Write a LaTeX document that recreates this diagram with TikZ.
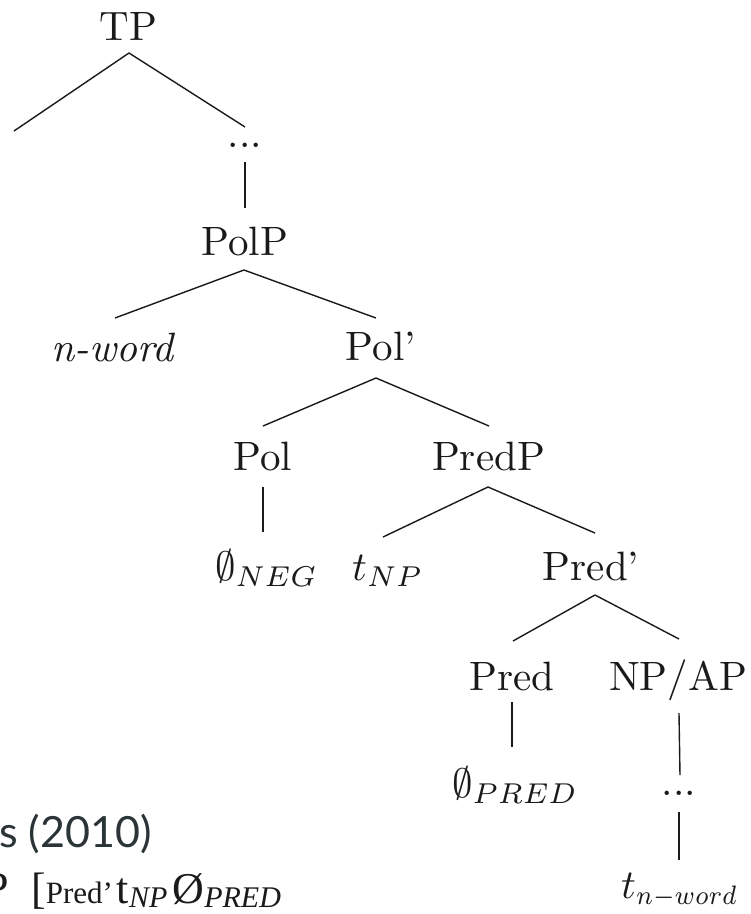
\RequirePackage{fix-cm}
\documentclass[tikz,border=0pt]{standalone}
\usepackage{graphicx}
\usepackage{fontspec}
\newfontfamily\labsans{Lato}
\newfontfamily\labserif{Liberation Serif}
\definecolor{sanscol}{HTML}{2B3436}
\definecolor{inkcol}{HTML}{1A1A1A}
\newcommand\treelab[1]{\scalebox{4.1}{#1}}
\begin{document}
\begin{tikzpicture}[x=1pt,y=-1pt,
  lab/.style={anchor=base,inner sep=0pt,text=inkcol,font=\fontsize{10}{12}\selectfont},
  labw/.style={lab,anchor=base west},
  br/.style={line width=1.4pt,draw=inkcol}]
\useasboundingbox (0,0) rectangle (751,914);
\clip (0,0) rectangle (751,914);
\fill[white] (0,0) rectangle (751,914);

% tree nodes
\node[lab] (TP) at (128.5,40) {\treelab{TP}};
\coordinate (TPL) at (14,131);
\node[lab] (d1) at (245,147) {\treelab{...}};
\node[lab] (PolP) at (245,255) {\treelab{PolP}};
\node[lab] (nw) at (113.5,361) {\treelab{\textit{n-word}}};
\node[lab] (Polb) at (381,360) {\treelab{Pol'}};
\node[lab] (Pol) at (263,470) {\treelab{Pol}};
\node[lab] (PredP) at (488.5,470) {\treelab{PredP}};
\node[labw] (neg) at (215,580) {\treelab{$\emptyset_{NEG}$}};
\node[labw] (tnp) at (352,580) {\treelab{$t_{NP}$}};
\node[lab] (Predb) at (591,580) {\treelab{Pred'}};
\node[lab] (Pred) at (512,690) {\treelab{Pred}};
\node[lab] (npap) at (678,690) {\treelab{NP/AP}};
\node[labw] (epred) at (452,797) {\treelab{$\emptyset_{PRED}$}};
\node[lab] (d2) at (679,795) {\treelab{...}};
\node[labw] (tnw) at (621,898) {\treelab{$t_{\scalebox{0.84}[0.93]{$\scriptstyle n-word$}}$}};

% branches
\draw[br] ([xshift=0.5pt,yshift=-13pt]TP.base) -- (TPL);
\draw[br] ([xshift=0.5pt,yshift=-13pt]TP.base) -- ([yshift=20pt]d1.base);
\draw[br] ([yshift=-15pt]d1.base) -- ([yshift=47pt]PolP.base);
\draw[br] ([xshift=-1pt,yshift=-15pt]PolP.base) -- ([xshift=1.5pt,yshift=43pt]nw.base);
\draw[br] ([xshift=-1pt,yshift=-15pt]PolP.base) -- ([xshift=-5pt,yshift=42pt]Polb.base);
\draw[br] ([xshift=-5pt,yshift=-18pt]Polb.base) -- ([yshift=44pt]Pol.base);
\draw[br] ([xshift=-5pt,yshift=-18pt]Polb.base) -- ([xshift=0.5pt,yshift=44pt]PredP.base);
\draw[br] ([yshift=-17pt]Pol.base) -- ([xshift=48pt,yshift=48pt]neg.base west);
\draw[br] ([xshift=-0.5pt,yshift=-17pt]PredP.base) -- ([xshift=31pt,yshift=43pt]tnp.base west);
\draw[br] ([xshift=-0.5pt,yshift=-17pt]PredP.base) -- ([xshift=4pt,yshift=47pt]Predb.base);
\draw[br] ([xshift=4pt,yshift=-15pt]Predb.base) -- ([xshift=1pt,yshift=49pt]Pred.base);
\draw[br] ([xshift=4pt,yshift=-15pt]Predb.base) -- ([xshift=1pt,yshift=51pt]npap.base);
\draw[br] ([yshift=-12pt]Pred.base) -- ([xshift=60pt,yshift=50pt]epred.base west);
\draw[br] ([xshift=1pt,yshift=-23pt]npap.base) -- ([xshift=1pt,yshift=20pt]d2.base);
\draw[br] ([yshift=-17pt]d2.base) -- ([xshift=58pt,yshift=38pt]tnw.base west);

% partial caption texts
\node[anchor=base west,inner sep=0pt,text=sanscol,font=\labsans\fontsize{43}{48}\selectfont] (cite) at (-1,847) {s (2010)};
\node[anchor=base east,inner sep=0pt,text=inkcol,font=\labserif\fontsize{44}{50}\selectfont] (cut) at (9,902) {P};
\node[anchor=base west,inner sep=0pt,text=inkcol,font=\labserif\fontsize{44}{50}\selectfont] (ex) at (31,903)
  {[{\fontsize{31}{35}\selectfont Pred’}\hspace{4pt}t\raisebox{-4pt}{\fontsize{30}{34}\selectfont\itshape NP}\hspace{5pt}Ø\raisebox{-4pt}{\fontsize{30}{34}\selectfont\itshape PRED}};
\end{tikzpicture}
\end{document}
